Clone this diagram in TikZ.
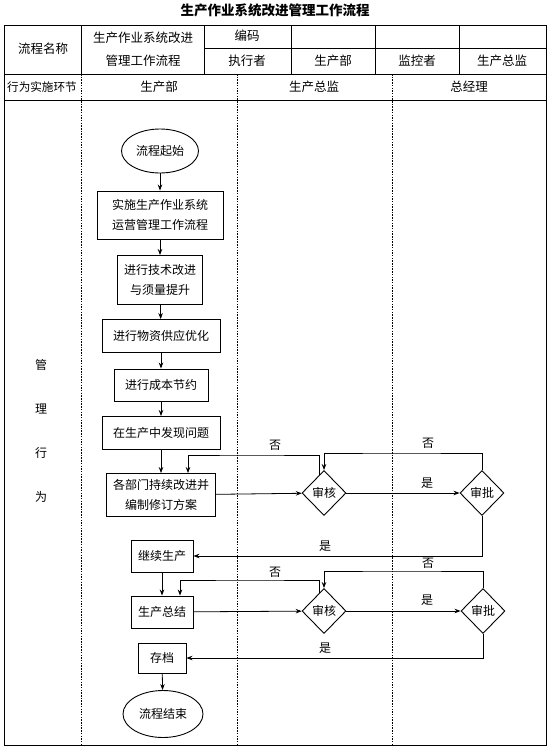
\documentclass[tikz,border=0pt]{standalone}
\usepackage{fontspec}
\newfontfamily\cjk{Noto Sans CJK SC}
\usetikzlibrary{arrows.meta, shapes.geometric}

\begin{document}
\begin{tikzpicture}[x=1pt, y=-1pt,
    font=\cjk\fontsize{12}{20}\selectfont,
    terminal/.style={draw, ellipse, line width=0.9pt, inner sep=0pt},
    proc/.style={draw, line width=0.9pt, inner sep=0pt, align=center},
    check/.style={draw, diamond, line width=0.9pt, inner sep=0pt,
                  minimum width=44pt, minimum height=45pt},
    cell/.style={inner sep=0pt, align=center,
                 font=\cjk\fontsize{12.5}{23}\selectfont},
    tabline/.style={line width=0.7pt},
    lane/.style={line width=0.6pt, dash pattern=on 1.5pt off 1.2pt},
    arr/.style={-{Stealth[length=6pt, width=4.5pt]}, line width=0.8pt},
    lbl/.style={inner sep=0pt}
  ]
    \useasboundingbox (0,0) rectangle (550,750);

    % header table
    \node[font=\cjk\bfseries\fontsize{13.5}{16}\selectfont] (title) at (275,10) {生产作业系统改进管理工作流程};
    \draw[line width=1pt] (4,25) rectangle (546,745);
    \draw[tabline] (4,74) -- (546,74);
    \draw[tabline] (4,100) -- (546,100);
    \draw[tabline] (204,48) -- (546,48);
    \foreach \x in {81,204,291,375,459}
      \draw[tabline] (\x,25) -- (\x,74);
    \foreach \x in {81,237,392}
      \draw[lane] (\x,74) -- (\x,745);

    \node[cell] (pname)  at (43,49)   {流程名称};
    \node[cell] (ptitle) at (143,49)  {生产作业系统改进\\管理工作流程};
    \node[cell] (code)   at (247,36)  {编码};
    \node[cell] (exec)   at (247,61)  {执行者};
    \node[cell] (execd)  at (333,61)  {生产部};
    \node[cell] (mon)    at (417,61)  {监控者};
    \node[cell] (mond)   at (502,61)  {生产总监};
    \node[cell, font=\cjk\fontsize{11.6}{14}\selectfont] (step0) at (42,87) {行为实施环节};
    \node[cell] (lane1)  at (159,87)  {生产部};
    \node[cell] (lane2)  at (314,87)  {生产总监};
    \node[cell] (lane3)  at (469,87)  {总经理};
    \node[cell, font=\cjk\fontsize{12}{44}\selectfont] (act) at (41,431) {管\\理\\行\\为};

    % flow
    \node[terminal, minimum width=77pt, minimum height=44pt] (start) at (160,151) {流程起始};
    \node[proc, minimum width=126pt, minimum height=48pt] (impl) at (160,215) {实施生产作业系统\\运营管理工作流程};
    \node[proc, minimum width=85pt, minimum height=49pt] (tech) at (160,280) {进行技术改进\\与须量提升};
    \node[proc, minimum width=118pt, minimum height=33pt] (supply) at (161,336) {进行物资供应优化};
    \node[proc, minimum width=94pt, minimum height=32pt] (cost) at (161,385) {进行成本节约};
    \node[proc, minimum width=118pt, minimum height=33pt] (find) at (161,433) {在生产中发现问题};
    \node[proc, minimum width=109pt, minimum height=43pt] (revise) at (161,495) {各部门持续改进并\\编制修订方案};
    \node[check] (audit1)   at (324,493) {审核};
    \node[check] (approve1) at (482,493) {审批};
    \node[proc, minimum width=62pt, minimum height=32pt] (cont) at (162,556) {继续生产};
    \node[proc, minimum width=62pt, minimum height=32pt] (summ) at (162,612) {生产总结};
    \node[check] (audit2)   at (324,611) {审核};
    \node[check] (approve2) at (483,611) {审批};
    \node[proc, minimum width=48pt, minimum height=30pt] (arch) at (162,658) {存档};
    \node[terminal, minimum width=80pt, minimum height=47pt] (stop) at (163,714) {流程结束};

    \draw[arr] (start) -- (impl);
    \draw[arr] (impl) -- (tech);
    \draw[arr] (tech) -- (supply);
    \draw[arr] (supply) -- (cost);
    \draw[arr] (cost) -- (find);
    \draw[arr] (find) -- (revise);
    \draw[arr] (revise) -- (audit1);
    \draw[arr] (audit1) -- (approve1);
    \draw[arr] (audit1.105) |- (250,455) -| ([xshift=27pt]revise.north);
    \draw[arr] (approve1.north) |- (400,453) -| (audit1.north);
    \draw[arr] (approve1.south) |- (cont.east);
    \draw[arr] (cont) -- (summ);
    \draw[arr] (summ) -- (audit2);
    \draw[arr] (audit2) -- (approve2);
    \draw[arr] (audit2.105) |- (250,580) -| ([xshift=18pt]summ.north);
    \draw[arr] (approve2.north) |- (400,571) -| (audit2.north);
    \draw[arr] (approve2.south) |- (arch.east);
    \draw[arr] (arch) -- (stop);

    \node[lbl] (no1)  at (275,445) {否};
    \node[lbl] (no2)  at (428,443) {否};
    \node[lbl] (yes1) at (427,483) {是};
    \node[lbl] (yes2) at (325,546) {是};
    \node[lbl] (no3)  at (275,572) {否};
    \node[lbl] (no4)  at (428,563) {否};
    \node[lbl] (yes3) at (427,600) {是};
    \node[lbl] (yes4) at (325,648) {是};
  \end{tikzpicture}
\end{document}
